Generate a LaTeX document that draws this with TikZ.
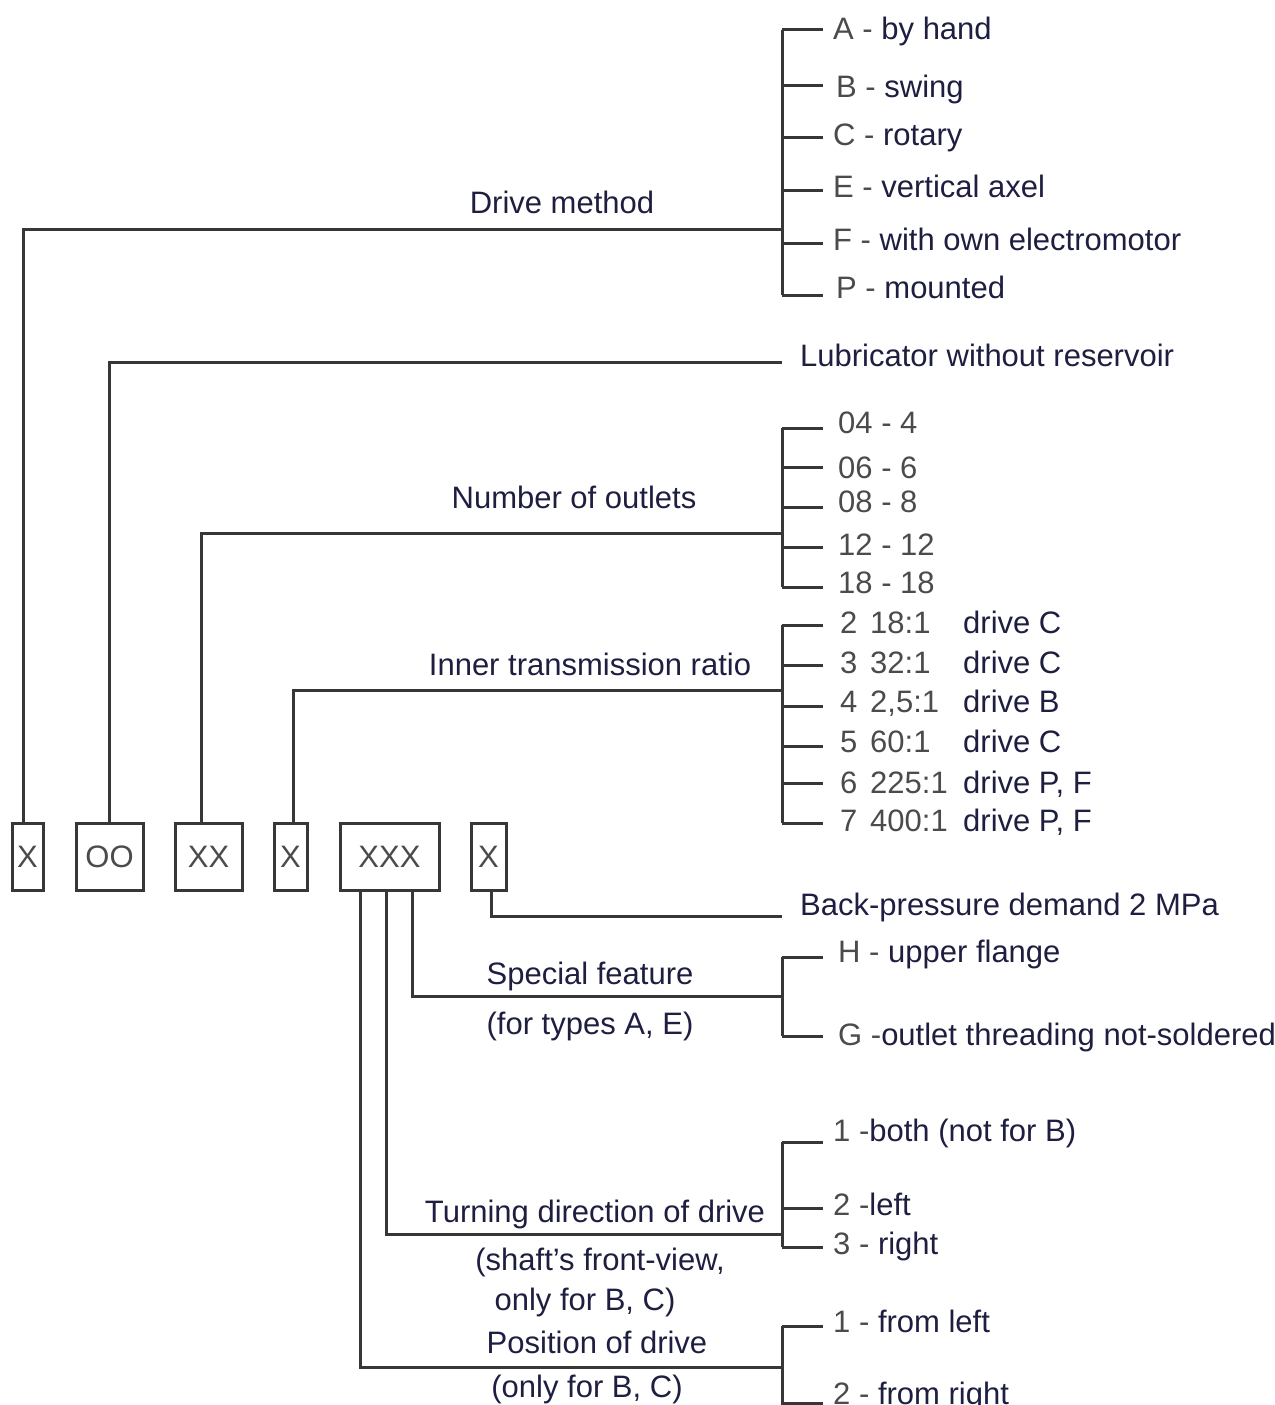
\documentclass[tikz,border=0pt]{standalone}
\usepackage{fontspec}
\setmainfont{Liberation Sans}
\usetikzlibrary{positioning,calc}
\definecolor{lineclr}{RGB}{55,55,55}
\definecolor{txtclr}{RGB}{30,30,65}
\definecolor{codeclr}{RGB}{75,75,75}
\tikzset{
  tree/.style={line width=3pt, lineclr},
  codebox/.style={draw=lineclr, line width=3pt, minimum height=67pt, inner sep=0pt, text=codeclr},
  grouplbl/.style={anchor=base, text=txtclr, inner sep=0pt},
  item/.style={anchor=base west, text=txtclr, inner sep=0pt},
}
\newcommand{\codepart}[1]{\textcolor{codeclr}{#1}}

\begin{document}
\begin{tikzpicture}[x=1pt, y=-1pt, font=\fontsize{31}{37}\selectfont]
    \useasboundingbox (0,0) rectangle (1274,1405);
    % code boxes
    \node[codebox, minimum width=31pt] (bX1) at (27.5,856.5) {X};
    \node[codebox, minimum width=67pt] (bOO) at (109.5,856.5) {OO};
    \node[codebox, minimum width=67pt] (bXX) at (208.5,856.5) {XX};
    \node[codebox, minimum width=33pt] (bX2) at (290.5,856.5) {X};
    \node[codebox, minimum width=99pt] (bXXX) at (389.5,856.5) {XXX};
    \node[codebox, minimum width=35pt] (bX3) at (488.5,856.5) {X};
    % junctions on the brackets
    \coordinate (jDrive) at (782,229);
    \coordinate (jLub) at (782,362);
    \coordinate (jOut) at (782,533);
    \coordinate (jRat) at (782,690);
    \coordinate (jBack) at (782,916);
    \coordinate (jSpec) at (782,996);
    \coordinate (jTurn) at (782,1234);
    \coordinate (jPos) at (782,1367);
    % connectors from the boxes
    \draw[tree] ([xshift=-4.5pt]bX1.north) |- (jDrive);
    \draw[tree] (bOO.north) |- (jLub);
    \draw[tree] ([xshift=-7.5pt]bXX.north) |- (jOut);
    \draw[tree] ([xshift=2.5pt]bX2.north) |- (jRat);
    \draw[tree] ([xshift=2.5pt]bX3.south) |- (jBack);
    \draw[tree] ([xshift=22.5pt]bXXX.south) |- (jSpec);
    \draw[tree] ([xshift=-3.5pt]bXXX.south) |- (jTurn);
    \draw[tree] ([xshift=-29.5pt]bXXX.south) |- (jPos);
    % brackets
    \draw[tree] (782,30) -- (782,295);
    \foreach \y in {30,85,137,190,243,295} \draw[tree] (782,\y) -- (823,\y);
    \draw[tree] (782,428) -- (782,587);
    \foreach \y in {428,467,507,547,587} \draw[tree] (782,\y) -- (823,\y);
    \draw[tree] (782,625) -- (782,823);
    \foreach \y in {625,665,706,746,783,823} \draw[tree] (782,\y) -- (823,\y);
    \draw[tree] (782,957) -- (782,1036);
    \foreach \y in {957,1036} \draw[tree] (782,\y) -- (823,\y);
    \draw[tree] (782,1142) -- (782,1247);
    \foreach \y in {1142,1208,1247} \draw[tree] (782,\y) -- (823,\y);
    \draw[tree] (782,1326) -- (782,1406);
    \foreach \y in {1326,1403} \draw[tree] (782,\y) -- (823,\y);
    % group labels
    \node[grouplbl] (gDrive) at (562,213) {Drive method};
    \node[item] (gLub) at (800,366) {Lubricator without reservoir};
    \node[grouplbl] (gOut) at (574,508) {Number of outlets};
    \node[grouplbl] (gRat) at (590,675) {Inner transmission ratio};
    \node[item] (gBack) at (800,915) {Back-pressure demand 2 MPa};
    \node[grouplbl] (gSpec) at (590,984) {Special feature};
    \node[grouplbl] (gSpecB) at (590,1034) {(for types A, E)};
    \node[grouplbl] (gTurn) at (595,1222) {Turning direction of drive};
    \node[grouplbl] (gTurnB) at (600,1270) {(shaft's front-view,};
    \node[grouplbl] (gTurnC) at (585,1310) {only for B, C)};
    \node[grouplbl] (gPos) at (597,1353) {Position of drive};
    \node[grouplbl] (gPosB) at (587,1397) {(only for B, C)};
    % drive method items
    \foreach \n/\x/\y/\lab in {A/833/40/{\codepart{A -} by hand},
        B/836/97/{\codepart{B -} swing}, C/833/145/{\codepart{C -} rotary},
        E/833/197/{\codepart{E -} vertical axel}, F/833/250/{\codepart{F -} with own electromotor},
        P/836/298/{\codepart{P -} mounted}}
      \node[item] (d\n) at (\x,\y) {\lab};
    % outlets
    \foreach \n/\y/\lab in {4/433/{04 - 4}, 6/478/{06 - 6}, 8/512/{08 - 8}, 12/555/{12 - 12}, 18/593/{18 - 18}}
      \node[item, text=codeclr] (o\n) at (838,\y) {\lab};
    % transmission ratios
    \foreach \n/\y/\r/\d in {2/633/{18:1}/C, 3/673/{32:1}/C, 4/712/{2,5:1}/B,
        5/752/{60:1}/C, 6/793/{225:1}/{P, F}, 7/831/{400:1}/{P, F}}{
      \node[item, text=codeclr] (rn\n) at (840,\y) {\n};
      \node[item, text=codeclr] (rr\n) at (870,\y) {\r};
      \node[item] (rd\n) at (963,\y) {drive \d};
    }
    % special feature
    \node[item] (sH) at (838,962) {\codepart{H -} upper flange};
    \node[item] (sG) at (838,1045) {\codepart{G -}outlet threading not-soldered};
    % turning direction
    \node[item] (t1) at (833,1141) {\codepart{1 -}both (not for B)};
    \node[item] (t2) at (833,1215) {\codepart{2 -}left};
    \node[item] (t3) at (833,1254) {\codepart{3 -} right};
    % position
    \node[item] (p1) at (833,1332) {\codepart{1 -} from left};
    \node[item] (p2) at (833,1404) {\codepart{2 -} from right};
\end{tikzpicture}
\end{document}
